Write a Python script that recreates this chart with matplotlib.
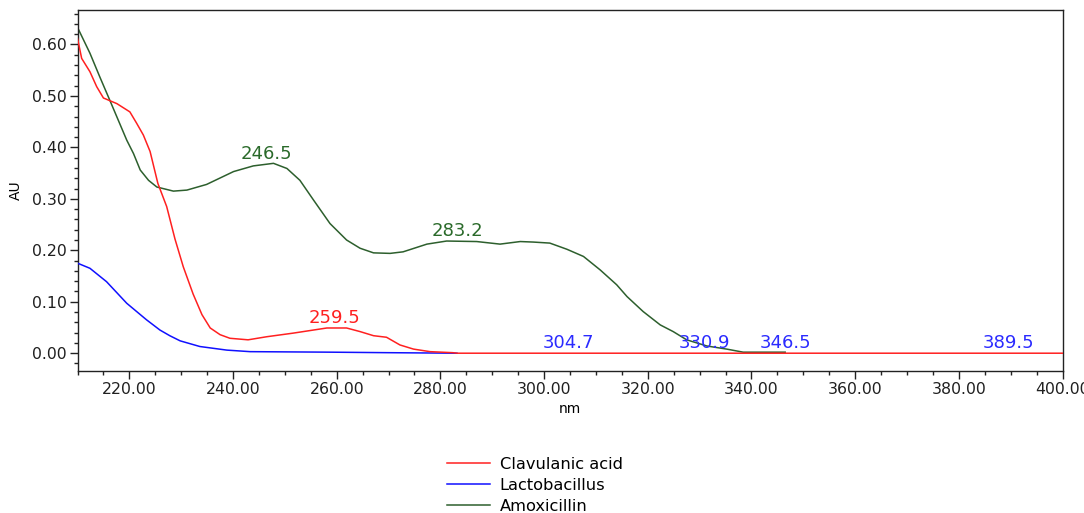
import numpy as np
import matplotlib
matplotlib.use("Agg")
import matplotlib.pyplot as plt
from matplotlib.ticker import MultipleLocator, FormatStrFormatter

# UV spectra (nm, AU)
clav_nm = [210.0, 210.8, 212.4, 213.7, 215.0, 217.6, 220.1, 221.4, 222.7, 224.0,
           225.5, 227.2, 228.8, 230.4, 232.3, 234.0, 235.6, 237.5, 239.4, 242.9,
           246.5, 251.6, 255.5, 258.1, 261.9, 264.5, 267.1, 269.6, 272.2, 274.8,
           278.0, 282.4, 283.2, 400.0]
clav_au = [0.612, 0.573, 0.547, 0.518, 0.496, 0.485, 0.469, 0.447, 0.424, 0.392,
           0.330, 0.285, 0.222, 0.168, 0.115, 0.075, 0.049, 0.036, 0.029, 0.026,
           0.032, 0.039, 0.045, 0.049, 0.049, 0.042, 0.034, 0.031, 0.016, 0.008,
           0.003, 0.001, 0.0, 0.0]

lacto_nm = [210.0, 212.4, 215.6, 219.5, 223.3, 225.9, 227.8, 229.8, 233.6, 238.8,
            243.3, 258.7, 270.0, 283.2]
lacto_au = [0.175, 0.165, 0.139, 0.097, 0.065, 0.045, 0.034, 0.024, 0.013, 0.006,
            0.003, 0.002, 0.001, 0.0]

amox_nm = [210.2, 212.4, 214.3, 216.3, 219.5, 220.8, 222.1, 223.7, 225.3, 228.5,
           231.1, 234.9, 240.1, 243.9, 247.8, 250.4, 252.9, 255.5, 258.7, 261.9,
           264.5, 267.1, 270.3, 272.8, 277.4, 281.2, 287.0, 291.5, 295.4, 297.9,
           301.1, 304.4, 307.6, 310.8, 314.0, 316.0, 319.1, 322.4, 324.9, 327.5,
           331.4, 335.2, 338.4, 346.5]
amox_au = [0.629, 0.583, 0.537, 0.490, 0.414, 0.388, 0.356, 0.336, 0.323, 0.315,
           0.317, 0.328, 0.353, 0.364, 0.369, 0.359, 0.336, 0.298, 0.252, 0.220,
           0.204, 0.195, 0.194, 0.197, 0.212, 0.218, 0.217, 0.212, 0.217, 0.216,
           0.214, 0.202, 0.188, 0.162, 0.133, 0.110, 0.081, 0.055, 0.042, 0.026,
           0.014, 0.008, 0.002, 0.002]

amox_peaks = [246.5, 283.2]
clav_peaks = [259.5]
lacto_peaks = [304.7, 330.9, 346.5, 389.5]

RED = "#ff2020"
BLUE = "#1010ff"
GREEN = "#2d5f2d"

fig = plt.figure(figsize=(10.84, 5.13), dpi=100)
ax = fig.add_axes([0.0715, 0.2774, 0.9087, 0.7031])

ax.plot(amox_nm, amox_au, color=GREEN, lw=1.1, zorder=2)
ax.plot(lacto_nm, lacto_au, color=BLUE, lw=1.1, zorder=3)
ax.plot(clav_nm, clav_au, color=RED, lw=1.1, zorder=4)

def label_peaks(peaks, nm, au, color, flat=False):
    for p in peaks:
        y = 0.0 if flat else float(np.interp(p, nm, au))
        ax.annotate(f"{p:.1f}", (p, y), xytext=(0, 3.8), textcoords="offset points",
                    ha="center", va="baseline", fontsize=13, color=color, zorder=5)

label_peaks(amox_peaks, amox_nm, amox_au, "#2a6a2a")
label_peaks(clav_peaks, clav_nm, clav_au, "#ff2020")
label_peaks(lacto_peaks, lacto_nm, lacto_au, "#2b2bff", flat=True)

ax.set_xlim(210, 400)
ax.set_ylim(-0.034, 0.667)
ax.xaxis.set_major_locator(MultipleLocator(20))
ax.xaxis.set_minor_locator(MultipleLocator(5))
ax.yaxis.set_major_locator(MultipleLocator(0.1))
ax.yaxis.set_minor_locator(MultipleLocator(0.02))
ax.xaxis.set_major_formatter(FormatStrFormatter("%.2f"))
ax.yaxis.set_major_formatter(FormatStrFormatter("%.2f"))
ax.tick_params(which="both", direction="out", color="#222222", width=1.0)
ax.tick_params(which="major", length=6, labelsize=11.3, pad=2, labelcolor="#202020")
ax.tick_params(which="minor", length=3)
for s in ax.spines.values():
    s.set_linewidth(1.0)
    s.set_color("#222222")

ax.set_xlabel("nm", fontsize=10, labelpad=4)
ax.set_ylabel("AU", fontsize=10, labelpad=6)

handles = [
    plt.Line2D([], [], color=RED, lw=1.1),
    plt.Line2D([], [], color=BLUE, lw=1.1),
    plt.Line2D([], [], color=GREEN, lw=1.1),
]
fig.legend(handles, ["Clavulanic acid", "Lactobacillus", "Amoxicillin"],
           loc="upper left", bbox_to_anchor=(447 / 1084, 1 - 457 / 513),
           frameon=False, fontsize=11.7, handlelength=2.65, handletextpad=0.6,
           labelspacing=0.36, borderpad=0, borderaxespad=0)

fig.savefig("out.png", dpi=100)
